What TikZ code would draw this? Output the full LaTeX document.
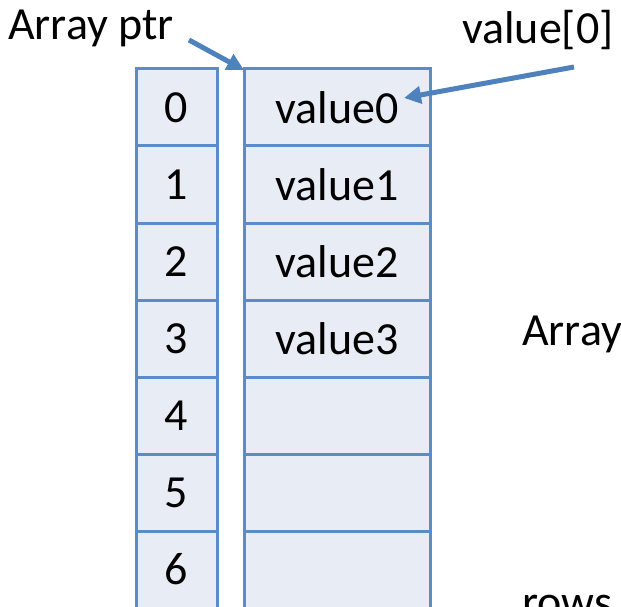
\documentclass[tikz,border=0pt]{standalone}
\usepackage{fontspec}
\setmainfont{Carlito}
\usetikzlibrary{arrows.meta}
\definecolor{cellline}{HTML}{5B8CC8}
\definecolor{cellfill}{HTML}{E8ECF4}
\definecolor{arrowblue}{HTML}{4F81BD}
\begin{document}
\begin{tikzpicture}[x=1pt,y=-1pt,
  cell/.style={draw=cellline,fill=cellfill,line width=3pt,minimum height=77pt,inner sep=0pt,font=\fontsize{46}{55}\selectfont},
  idxcell/.style={cell,minimum width=81pt},
  valcell/.style={cell,minimum width=186pt},
  lbl/.style={font=\fontsize{46}{55}\selectfont,inner sep=0pt},
  ptr/.style={draw=arrowblue,line width=5pt,-{Triangle[width=17pt,length=17pt]}}]
\useasboundingbox (0,0) rectangle (621,607);
\begin{scope}
\clip (0,0) rectangle (621,607);
\foreach \i/\t in {0/value0,1/value1,2/value2,3/value3,4/,5/,6/}{
  \node[idxcell] (l\i) at (176.5,{107.5+77*\i}) {\i};
  \node[valcell] (r\i) at (337,{107.5+77*\i}) {\t};
}
\node[lbl,anchor=base west] (aptr) at (8,40) {Array ptr};
\node[lbl,anchor=base west] (v0) at (462,44) {value[0]};
\node[lbl,anchor=base west] (arr) at (522,345) {Array};
\node[lbl,anchor=base west] (rows) at (522,617) {rows};
\coordinate (ps) at (189,40);
\coordinate (pe) at (244,70);
\coordinate (vs) at (574,67);
\coordinate (ve) at (404,98);
\draw[ptr] (ps) -- (pe);
\draw[ptr] (vs) -- (ve);
\end{scope}
\end{tikzpicture}
\end{document}
